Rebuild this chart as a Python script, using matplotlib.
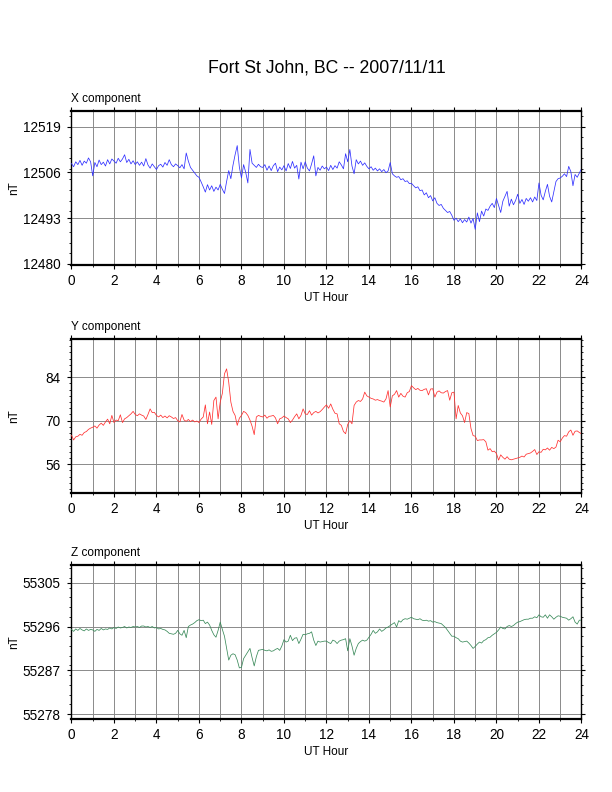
import numpy as np
import matplotlib
matplotlib.use("Agg")
import matplotlib.pyplot as plt
from matplotlib.ticker import MultipleLocator, FixedLocator

plt.rcParams['font.family'] = ['Liberation Sans', 'DejaVu Sans']

# sample times, every 6 minutes (0.1 h)
hours = np.linspace(0, 24, 241)

# X component (nT), one row per hour
x_comp = [
    12508.5, 12507.6, 12509.0, 12508.2, 12509.4, 12508.0, 12509.2, 12508.6, 12510.1, 12509.0,
    12505.0, 12508.8, 12507.6, 12509.5, 12508.2, 12508.9, 12507.8, 12509.6, 12508.4, 12509.8,
    12509.2, 12508.6, 12510.0, 12509.0, 12509.8, 12511.0, 12508.8, 12509.7, 12508.4, 12509.3,
    12508.2, 12509.0, 12508.0, 12508.9, 12507.8, 12509.9, 12508.1, 12507.2, 12508.4, 12507.6,
    12506.8, 12507.9, 12508.3, 12507.5, 12508.8, 12508.0, 12509.6, 12508.2, 12507.6, 12508.4,
    12507.9, 12507.3, 12508.2, 12507.0, 12511.5, 12509.2, 12507.4, 12506.6, 12505.8, 12505.0,
    12504.6, 12503.3, 12501.9, 12500.4, 12502.5, 12501.0, 12502.2, 12500.6, 12501.8, 12501.0,
    12502.6, 12501.2, 12500.0, 12503.4, 12506.5, 12504.2, 12508.0, 12511.0, 12513.6, 12507.5,
    12504.4, 12508.2, 12506.0, 12503.0, 12512.5, 12508.6, 12508.0, 12507.4, 12508.3, 12507.6,
    12507.4, 12508.2, 12506.6, 12507.8, 12506.5, 12507.9, 12508.6, 12506.2, 12507.5, 12506.7,
    12507.9, 12506.4, 12508.5, 12507.1, 12509.1, 12507.2, 12508.0, 12504.1, 12508.9, 12507.0,
    12509.0, 12507.2, 12506.4, 12508.4, 12510.7, 12505.0, 12507.4, 12506.6, 12507.8, 12507.0,
    12507.5, 12506.5, 12508.0, 12506.8, 12507.9, 12507.2, 12509.0, 12508.1, 12507.0, 12511.3,
    12509.0, 12512.5, 12507.8, 12505.6, 12509.6, 12508.4, 12509.2, 12508.0, 12508.7, 12507.7,
    12507.0, 12507.6, 12506.6, 12507.2, 12506.4, 12507.0, 12506.2, 12506.8, 12505.9, 12506.4,
    12508.8, 12505.6, 12505.0, 12504.6, 12504.8, 12503.9, 12504.2, 12503.4, 12503.6, 12502.8,
    12502.9, 12502.2, 12501.6, 12501.9, 12500.8, 12501.0, 12499.6, 12500.2, 12498.8, 12499.4,
    12497.9, 12498.8, 12497.2, 12496.6, 12496.9, 12495.8, 12495.2, 12494.6, 12494.9, 12493.8,
    12492.4, 12493.0, 12492.0, 12492.8, 12491.7, 12492.6, 12491.9, 12493.3, 12491.6, 12492.9,
    12489.8, 12494.5, 12492.0, 12495.0, 12493.6, 12495.6, 12495.2, 12496.4, 12497.2, 12496.0,
    12498.6, 12496.6, 12494.6, 12497.8, 12499.2, 12500.6, 12496.4, 12498.4, 12496.8, 12498.0,
    12499.8, 12497.2, 12498.3, 12496.9, 12498.6, 12497.8, 12498.8, 12497.6, 12499.0, 12498.0,
    12503.0, 12499.5, 12498.2, 12500.6, 12502.6, 12499.2, 12497.6, 12500.5, 12503.4, 12504.2,
    12504.4, 12504.9, 12505.6, 12504.8, 12507.7, 12506.2, 12502.2, 12505.4, 12504.6, 12505.8,
    12507.0,
]

# Y component (nT)
y_comp = [
    65.3, 63.8, 64.8, 65.0, 65.6, 65.3, 66.2, 66.5, 67.2, 67.6,
    67.9, 68.3, 67.6, 68.6, 69.2, 68.5, 69.6, 70.5, 69.0, 71.7,
    69.4, 70.2, 70.0, 71.9, 69.4, 70.6, 71.0, 71.6, 72.2, 73.0,
    72.0, 71.6, 72.2, 71.8, 71.5, 70.4, 72.0, 73.8, 72.6, 72.7,
    71.7, 71.2, 71.8, 71.0, 71.5, 70.9, 71.6, 71.2, 70.7, 71.0,
    70.0, 69.6, 72.0, 70.2, 69.8, 70.4, 69.7, 70.2, 69.6, 69.9,
    69.4, 70.5, 71.2, 75.1, 69.0, 72.8, 68.8, 76.5, 77.6, 70.6,
    76.0, 78.8, 85.1, 86.7, 82.4, 76.0, 73.0, 71.7, 68.5, 70.8,
    71.7, 73.0, 72.6, 71.7, 70.2, 68.2, 65.5, 71.2, 71.7, 71.4,
    71.2, 71.8, 70.8, 71.4, 71.5, 71.7, 70.9, 69.0, 70.6, 70.9,
    71.5, 71.0, 70.6, 69.4, 70.2, 71.3, 72.2, 70.6, 71.7, 73.8,
    72.2, 72.0, 73.2, 71.8, 72.6, 73.0, 72.5, 72.9, 73.6, 74.4,
    75.1, 74.0, 75.4, 73.7, 72.4, 72.2, 69.0, 68.5, 66.5, 65.8,
    68.8, 70.0, 69.0, 74.9, 76.0, 76.5, 76.2, 77.0, 79.2, 78.0,
    77.6, 77.2, 77.0, 76.6, 76.8, 76.5, 76.3, 76.0, 77.0, 79.7,
    74.4, 78.0, 78.5, 79.7, 77.6, 78.8, 77.9, 77.6, 79.0, 79.4,
    81.3, 80.6, 80.0, 80.4, 79.8, 79.7, 80.1, 80.3, 78.3, 80.2,
    80.3, 77.6, 79.2, 79.6, 79.0, 78.9, 79.4, 79.7, 76.6, 79.0,
    79.2, 70.6, 74.9, 72.5, 71.6, 69.4, 72.6, 72.3, 67.5, 65.2,
    65.0, 63.6, 63.8, 63.8, 63.9, 63.2, 60.5, 61.0, 60.0, 60.2,
    59.4, 57.3, 59.0, 58.2, 57.6, 58.4, 57.6, 57.4, 57.6, 57.8,
    58.0, 58.2, 58.6, 58.3, 59.2, 59.4, 59.6, 60.1, 60.7, 59.1,
    60.0, 59.8, 60.8, 60.6, 61.2, 60.5, 61.4, 61.0, 61.5, 63.7,
    63.2, 64.4, 65.2, 65.0, 66.4, 67.0, 65.3, 66.6, 66.7, 66.2,
    65.8,
]

# Z component (nT)
z_comp = [
    55295.4, 55295.0, 55295.5, 55295.2, 55295.6, 55295.3, 55295.1, 55295.5, 55295.2, 55295.4,
    55295.3, 55295.0, 55295.4, 55295.2, 55295.6, 55295.3, 55295.5, 55295.4, 55295.7, 55295.5,
    55295.8, 55295.6, 55295.9, 55295.7, 55295.8, 55296.0, 55295.7, 55295.9, 55295.8, 55296.0,
    55295.9, 55296.0, 55295.8, 55296.1, 55296.1, 55295.9, 55296.0, 55295.8, 55296.0, 55295.7,
    55295.8, 55295.5, 55295.6, 55295.4, 55295.3, 55295.0, 55294.6, 55294.5, 55294.4, 55294.6,
    55295.2, 55294.5, 55294.2, 55295.2, 55293.7, 55296.0, 55296.3, 55296.5, 55296.8, 55297.2,
    55297.4, 55297.2, 55297.3, 55296.6, 55296.9, 55296.3, 55295.2, 55294.3, 55293.8, 55295.2,
    55296.9, 55295.4, 55294.0, 55291.5, 55289.1, 55290.1, 55290.4, 55290.2, 55289.1, 55287.5,
    55287.6, 55289.4, 55290.1, 55290.8, 55291.5, 55289.6, 55287.9, 55289.8, 55291.1, 55291.2,
    55291.3, 55291.1, 55291.0, 55291.2, 55290.9, 55291.0, 55291.3, 55291.5, 55291.1, 55292.0,
    55293.3, 55292.8, 55293.0, 55294.2, 55293.1, 55293.6, 55293.7, 55292.5, 55293.4, 55294.4,
    55294.3, 55294.5, 55294.6, 55294.9, 55293.2, 55292.1, 55293.0, 55292.8, 55292.9, 55293.0,
    55293.0, 55292.7, 55292.5, 55293.2, 55293.0, 55292.5, 55293.0, 55293.2, 55293.3, 55293.5,
    55291.0, 55293.5, 55292.0, 55290.1, 55291.5, 55292.5, 55292.9, 55293.2, 55293.0, 55293.2,
    55293.8, 55294.4, 55295.2, 55294.6, 55294.9, 55295.5, 55295.0, 55295.3, 55295.7, 55295.9,
    55296.2, 55296.5, 55296.8, 55295.9, 55297.2, 55296.9, 55297.4, 55297.6, 55297.5, 55297.7,
    55297.9, 55297.6, 55297.5, 55297.4, 55297.6, 55297.3, 55297.2, 55297.3, 55297.1, 55297.2,
    55296.9, 55297.0, 55296.8, 55296.7, 55296.6, 55296.2, 55295.8, 55295.2, 55294.6, 55294.0,
    55294.0, 55293.7, 55293.5, 55293.0, 55292.8, 55292.9, 55293.0, 55292.6, 55292.1, 55291.5,
    55291.9, 55292.4, 55292.8, 55292.6, 55293.1, 55293.3, 55293.7, 55293.8, 55294.2, 55294.5,
    55294.8, 55295.3, 55295.9, 55295.6, 55295.5, 55296.0, 55296.2, 55296.0, 55296.2, 55296.6,
    55296.9, 55297.0, 55297.2, 55297.4, 55297.5, 55297.5, 55297.7, 55297.7, 55298.0, 55297.8,
    55298.4, 55298.0, 55297.9, 55298.4, 55297.7, 55298.4, 55298.0, 55297.5, 55297.9, 55298.2,
    55298.1, 55297.9, 55297.8, 55297.7, 55297.3, 55297.6, 55298.0, 55296.9, 55296.5, 55297.3,
    55297.3,
]

panels = [
    ("X component", x_comp, "#3030ff", (12479.7, 12523.5), [12480, 12493, 12506, 12519], 3),
    ("Y component", y_comp, "#ff3030", (46.7, 96.4), [56, 70, 84], 2),
    ("Z component", z_comp, "#3a8a5a", (55277.0, 55308.7), [55278, 55287, 55296, 55305], 2),
]
bottoms = [0.6654, 0.3775, 0.0922]

fig = plt.figure(figsize=(6.12, 7.92), dpi=100)

for (name, vals, col, ylim, yt, ymin), b in zip(panels, bottoms):
    ax = fig.add_axes([0.1168, b, 0.8333, 0.1948])
    ax.plot(hours, vals, color=col, lw=0.55, zorder=3)
    ax.set_xlim(0, 24)
    ax.set_ylim(*ylim)
    ax.set_xticks(range(0, 25, 2))
    ax.xaxis.set_minor_locator(MultipleLocator(1))
    ax.yaxis.set_major_locator(FixedLocator(yt))
    ax.yaxis.set_minor_locator(MultipleLocator(ymin))
    # grid every hour, and at the labelled y values
    for h in range(1, 24):
        ax.axvline(h, color='#8a8a8a', lw=0.7, zorder=1)
    for v in yt:
        ax.axhline(v, color='#8a8a8a', lw=0.7, zorder=1)
    ax.tick_params(which='both', direction='out', top=True, right=True,
                   labelsize=9.8, color='black')
    ax.tick_params(which='major', length=3.0, width=0.8, pad=3.5)
    ax.tick_params(which='minor', length=1.6, width=0.6)
    ax.tick_params(axis='y', which='major', pad=5.0)
    for s in ['top', 'bottom']:
        ax.spines[s].set_linewidth(1.6)
    for s in ['left', 'right']:
        ax.spines[s].set_linewidth(1.0)
    ax.text(0, 1.038, name, transform=ax.transAxes, ha='left', va='bottom', fontsize=8.5)
    ax.text(0.5, -0.214, "UT Hour", transform=ax.transAxes, ha='center', va='center', fontsize=8.5)
    ax.text(-0.1127, 0.5, "nT", transform=ax.transAxes, ha='center', va='center',
            rotation=90, fontsize=8.5)

fig.text(0.5335, 0.914, "Fort St John, BC -- 2007/11/11", ha='center', va='center', fontsize=12.7)

fig.savefig("out.png", dpi=100)
